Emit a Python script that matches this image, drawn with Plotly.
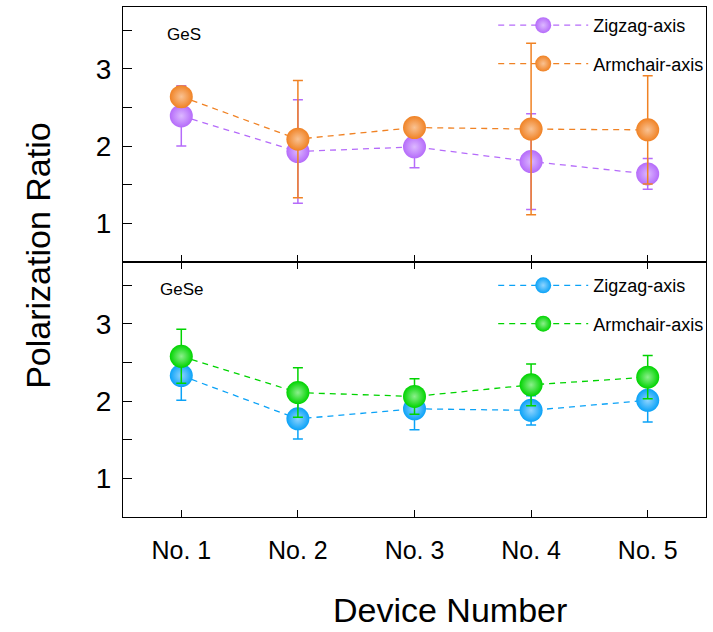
import plotly.graph_objects as go
from plotly.subplots import make_subplots

devices = ["No. 1", "No. 2", "No. 3", "No. 4", "No. 5"]
x_pos = [1, 2, 3, 4, 5]

ges_zigzag = [2.39, 1.93, 1.99, 1.80, 1.64]
ges_zigzag_err = [0.39, 0.67, 0.27, 0.62, 0.20]
ges_armchair = [2.64, 2.09, 2.24, 2.22, 2.21]
ges_armchair_err = [0.13, 0.76, 0.12, 1.11, 0.70]

gese_zigzag = [2.33, 1.77, 1.90, 1.88, 2.01]
gese_zigzag_err = [0.32, 0.26, 0.27, 0.19, 0.28]
gese_armchair = [2.58, 2.11, 2.06, 2.21, 2.31]
gese_armchair_err = [0.35, 0.32, 0.23, 0.27, 0.28]

FONT = "Liberation Sans, Arial, sans-serif"

fig = make_subplots(rows=2, cols=1, shared_xaxes=False, vertical_spacing=0)


def add(y, err, color, light, name, row, legend):
    fig.add_trace(go.Scatter(
        x=x_pos, y=y, name=name, mode="lines+markers",
        line=dict(color=color, width=1.3, dash="6px,5px"),
        marker=dict(size=23, color=color, line=dict(width=0),
                    gradient=dict(type="radial", color=light)),
        error_y=dict(type="data", array=err, visible=True, color=color,
                     thickness=1.5, width=5),
        legend=legend, legendgroup=name + legend,
    ), row=row, col=1)


add(ges_zigzag, ges_zigzag_err, "#b56bfa", "#dcb8ff", "Zigzag-axis", 1, "legend")
add(ges_armchair, ges_armchair_err, "#f08224", "#f9c293", "Armchair-axis", 1, "legend")
add(gese_zigzag, gese_zigzag_err, "#0aa2f7", "#8fd4ff", "Zigzag-axis", 2, "legend2")
add(gese_armchair, gese_armchair_err, "#00d400", "#8cef8c", "Armchair-axis", 2, "legend2")

yt = [1, 1.5, 2, 2.5, 3, 3.5]
ytt = ["1", "", "2", "", "3", ""]

for r in (1, 2):
    fig.update_yaxes(range=[0.5, 3.8], tickvals=yt, ticktext=ytt, ticks="inside",
                     ticklen=9, tickwidth=1.2, tickcolor="black", showline=True,
                     linecolor="black", linewidth=1.3, mirror=True, showgrid=False,
                     zeroline=False, tickfont=dict(family=FONT, size=28, color="black"),
                     ticklabelstandoff=5, row=r, col=1)
    fig.update_xaxes(range=[0.5, 5.5], tickvals=x_pos, ticktext=devices,
                     ticks="inside", ticklen=7, tickwidth=1.2, tickcolor="black",
                     showline=True, linecolor="black", linewidth=1.3,
                     mirror=("ticks" if r == 2 else True), showgrid=False, zeroline=False,
                     showticklabels=(r == 2),
                     tickfont=dict(family=FONT, size=25, color="black"),
                     ticklabelstandoff=11, row=r, col=1)

legend_common = dict(bgcolor="rgba(0,0,0,0)", font=dict(family=FONT, size=18, color="black"),
                     itemwidth=90, tracegroupgap=12, traceorder="grouped",
                     xanchor="left", yanchor="top", itemsizing="trace")
fig.update_layout(
    width=713, height=632,
    margin=dict(l=123, r=4, t=7, b=115),
    plot_bgcolor="white", paper_bgcolor="white",
    showlegend=True,
    legend=dict(x=0.635, y=1.0, **legend_common),
    legend2=dict(x=0.635, y=0.49, **legend_common),
    annotations=[
        dict(text="GeS", xref="paper", yref="paper", x=0.072, y=0.947, showarrow=False,
             xanchor="left", yanchor="middle", font=dict(family=FONT, size=17, color="black")),
        dict(text="GeSe", xref="paper", yref="paper", x=0.060, y=0.447, showarrow=False,
             xanchor="left", yanchor="middle", font=dict(family=FONT, size=17, color="black")),
        dict(text="Polarization Ratio", xref="paper", yref="paper", x=-0.145, y=0.513,
             textangle=-90, showarrow=False, xanchor="center", yanchor="middle",
             font=dict(family=FONT, size=34, color="black")),
        dict(text="Device Number", xref="paper", yref="paper", x=0.561, y=-0.182,
             showarrow=False, xanchor="center", yanchor="middle",
             font=dict(family=FONT, size=34, color="black")),
    ],
)

fig.write_html("out.html")
